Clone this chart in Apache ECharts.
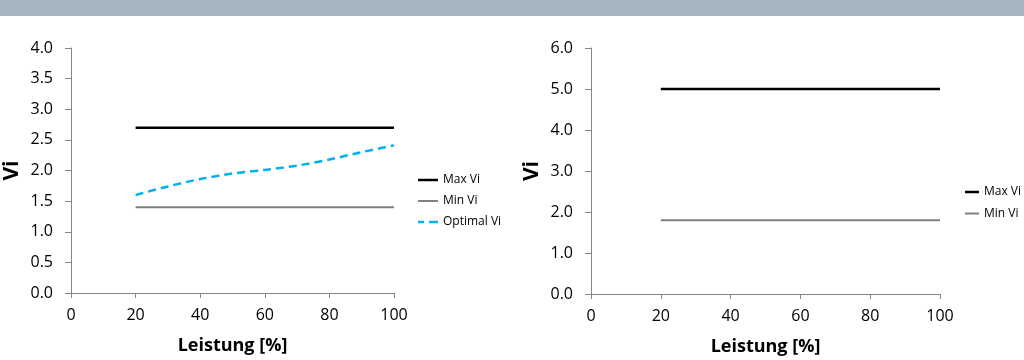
<!DOCTYPE html>
<html>
<head>
<meta charset="utf-8">
<script src="https://cdn.jsdelivr.net/npm/echarts@6/dist/echarts.min.js"></script>
<style>
html,body{margin:0;padding:0;background:#fff;}
#c{width:1024px;height:360px;}
</style>
</head>
<body>
<div id="c"></div>
<script>
// ---- data ----
const leistung = [20, 30, 40, 50, 60, 70, 80, 90, 100];
const leftMaxVi = [2.7, 2.7, 2.7, 2.7, 2.7, 2.7, 2.7, 2.7, 2.7];
const leftMinVi = [1.4, 1.4, 1.4, 1.4, 1.4, 1.4, 1.4, 1.4, 1.4];
const leftOptimalVi = [1.6, 1.74, 1.86, 1.95, 2.01, 2.08, 2.18, 2.3, 2.41];
const rightLeistung = [20, 100];
const rightMaxVi = [5.0, 5.0];
const rightMinVi = [1.8, 1.8];
const seriesNames = ['Max Vi', 'Min Vi', 'Optimal Vi'];
const xAxisTitle = 'Leistung [%]';
const yAxisTitle = 'Vi';

const pairs = (xs, ys) => xs.map((x, i) => [x, ys[i]]);
const FONT = '"Open Sans", "Liberation Sans", sans-serif';
const AXIS_COLOR = '#868686';
const COLORS = ['#000000', '#7f7f7f', '#00b0f0'];

function xAxisCfg(gridIndex) {
  return {
    type: 'value', gridIndex, min: 0, max: 100, interval: 20,
    name: xAxisTitle, nameLocation: 'middle', nameGap: 44,
    nameTextStyle: { fontFamily: FONT, fontSize: 18, fontWeight: 'bold', color: '#000' },
    axisLine: { show: true, lineStyle: { color: AXIS_COLOR, width: 1 } },
    axisTick: { show: true, length: 5, lineStyle: { color: AXIS_COLOR } },
    axisLabel: { fontFamily: FONT, fontSize: 16, color: '#000', margin: 14 },
    splitLine: { show: false }
  };
}
function yAxisCfg(gridIndex, max, interval) {
  return {
    type: 'value', gridIndex, min: 0, max, interval,
    name: yAxisTitle, nameLocation: 'middle', nameGap: 48, nameRotate: 90,
    nameTextStyle: { fontFamily: FONT, fontSize: 21, fontWeight: 'bold', color: '#000' },
    axisLine: { show: true, lineStyle: { color: AXIS_COLOR, width: 1 } },
    axisTick: { show: true, length: 6, lineStyle: { color: AXIS_COLOR } },
    axisLabel: { fontFamily: FONT, fontSize: 16, color: '#000', margin: 18,
      formatter: v => v.toFixed(1) },
    splitLine: { show: false }
  };
}

const legendText = { fontFamily: FONT, fontSize: 12, lineHeight: 14, color: '#000' };

const chart = echarts.init(document.getElementById('c'), null, { renderer: 'canvas' });
chart.setOption({
  backgroundColor: '#ffffff',
  animation: false,
  graphic: [{
    type: 'rect', left: 0, top: 0, silent: true,
    shape: { width: 1024, height: 16 },
    style: { fill: '#a6b5c0' }
  }],
  grid: [
    { left: 71, right: 630, top: 48, bottom: 67, containLabel: false, outerBoundsMode: 'none' },
    { left: 591, right: 84, top: 48, bottom: 66, containLabel: false, outerBoundsMode: 'none' }
  ],
  xAxis: [xAxisCfg(0), xAxisCfg(1)],
  yAxis: [yAxisCfg(0, 4, 0.5), yAxisCfg(1, 6, 1)],
  legend: [
    {
      left: 418, top: 173, padding: 0, orient: 'vertical', itemWidth: 20, itemHeight: 2.5, itemGap: 7,
      textStyle: legendText,
      data: [
        { name: seriesNames[0], icon: 'rect', itemStyle: { color: COLORS[0] } },
        { name: seriesNames[1], icon: 'path://M0,0h20v2h-20z', itemStyle: { color: COLORS[1] } },
        { name: seriesNames[2], icon: 'path://M0,0h6v2.5h-6z M11,0h9v2.5h-9z', itemStyle: { color: COLORS[2] } }
      ]
    },
    {
      left: 965, top: 185, padding: 0, orient: 'vertical', itemWidth: 14, itemHeight: 2.5, itemGap: 7.5,
      textStyle: legendText,
      data: [
        { name: seriesNames[0], icon: 'rect', itemStyle: { color: COLORS[0] } },
        { name: seriesNames[1], icon: 'path://M0,0h14v2h-14z', itemStyle: { color: COLORS[1] } }
      ]
    }
  ],
  series: [
    { name: seriesNames[0], type: 'line', xAxisIndex: 0, yAxisIndex: 0, symbol: 'none',
      data: pairs(leistung, leftMaxVi), lineStyle: { color: COLORS[0], width: 2.5 }, itemStyle: { color: COLORS[0] } },
    { name: seriesNames[1], type: 'line', xAxisIndex: 0, yAxisIndex: 0, symbol: 'none',
      data: pairs(leistung, leftMinVi), lineStyle: { color: COLORS[1], width: 2 }, itemStyle: { color: COLORS[1] } },
    { name: seriesNames[2], type: 'line', xAxisIndex: 0, yAxisIndex: 0, symbol: 'none', smooth: 0.3,
      data: pairs(leistung, leftOptimalVi),
      lineStyle: { color: COLORS[2], width: 2.5, type: [8, 5] }, itemStyle: { color: COLORS[2] } },
    { name: seriesNames[0], type: 'line', xAxisIndex: 1, yAxisIndex: 1, symbol: 'none',
      data: pairs(rightLeistung, rightMaxVi), lineStyle: { color: COLORS[0], width: 2.5 }, itemStyle: { color: COLORS[0] } },
    { name: seriesNames[1], type: 'line', xAxisIndex: 1, yAxisIndex: 1, symbol: 'none',
      data: pairs(rightLeistung, rightMinVi), lineStyle: { color: COLORS[1], width: 2 }, itemStyle: { color: COLORS[1] } }
  ]
});
</script>
</body>
</html>
